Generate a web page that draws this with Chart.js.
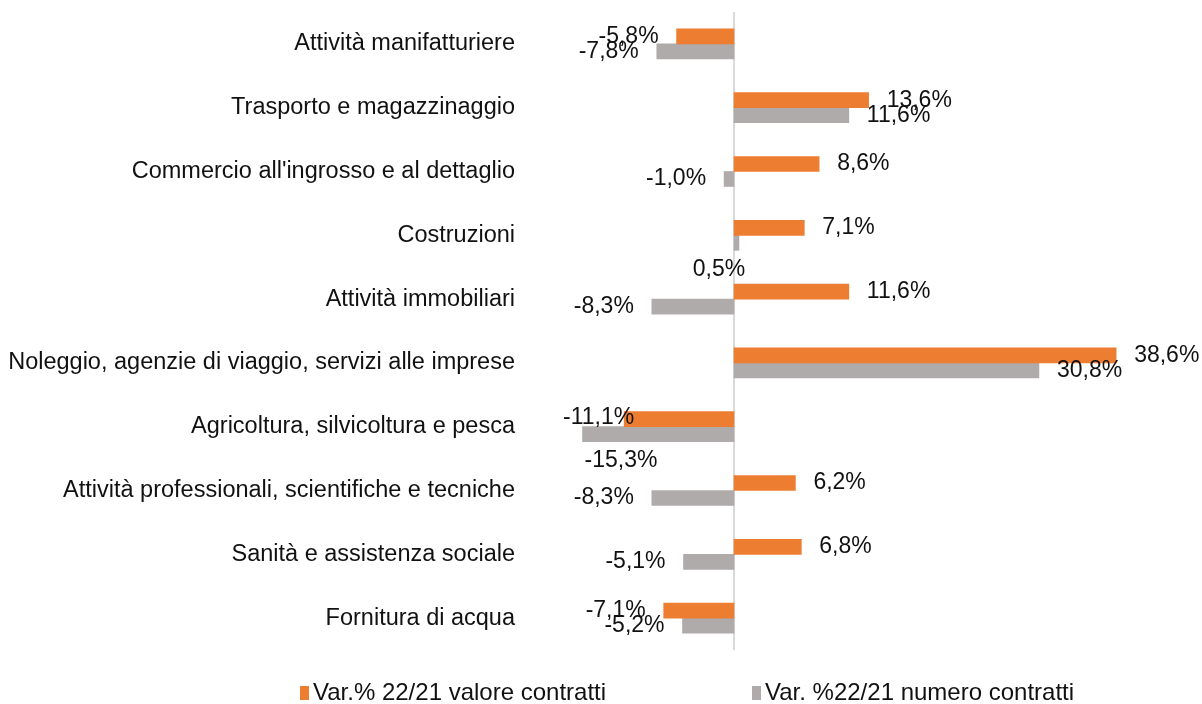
<!DOCTYPE html>
<html>
<head>
<meta charset="utf-8">
<script src="https://cdn.jsdelivr.net/npm/chart.js@4"></script>
<style>
  body { margin: 0; background: #fff; }
  #wrap { width: 1202px; height: 704px; position: relative; }
</style>
</head>
<body>
<div id="wrap"><canvas id="sectorChart"></canvas></div>
<script>
const sectors = [
  "Attività manifatturiere",
  "Trasporto e magazzinaggio",
  "Commercio all'ingrosso e al dettaglio",
  "Costruzioni",
  "Attività immobiliari",
  "Noleggio, agenzie di viaggio, servizi alle imprese",
  "Agricoltura, silvicoltura e pesca",
  "Attività professionali, scientifiche e tecniche",
  "Sanità e assistenza sociale",
  "Fornitura di acqua"
];
const valoreValues = [-5.8, 13.6, 8.6, 7.1, 11.6, 38.6, -11.1, 6.2, 6.8, -7.1];
const numeroValues = [-7.8, 11.6, -1.0, 0.5, -8.3, 30.8, -15.3, -8.3, -5.1, -5.2];
const seriesNames = ["Var.% 22/21 valore contratti", "Var. %22/21 numero contratti"];
const seriesColors = ["#ED7D31", "#AFABAB"];

const FONT = "'Liberation Sans', Arial, sans-serif";
const TEXT = "#111111";

function pct(v) {
  return v.toFixed(1).replace(".", ",") + "%";
}

// zero line behind the bars
const zeroLine = {
  id: "zeroLine",
  beforeDatasetsDraw(chart) {
    const { ctx, chartArea, scales } = chart;
    const x = Math.round(scales.x.getPixelForValue(0));
    ctx.save();
    ctx.strokeStyle = "#D9D9D9";
    ctx.lineWidth = 2;
    ctx.beginPath();
    ctx.moveTo(x, chartArea.top);
    ctx.lineTo(x, chartArea.bottom);
    ctx.stroke();
    ctx.restore();
  }
};

// value labels at the outer end of each bar
const barLabels = {
  id: "barLabels",
  afterDatasetsDraw(chart) {
    const { ctx, chartArea } = chart;
    ctx.save();
    ctx.font = "23px " + FONT;
    ctx.fillStyle = TEXT;
    ctx.textBaseline = "middle";
    chart.data.datasets.forEach((ds, di) => {
      const meta = chart.getDatasetMeta(di);
      meta.data.forEach((bar, i) => {
        const v = ds.data[i];
        const txt = pct(v);
        const w = ctx.measureText(txt).width;
        const gap = 18;
        if (Math.abs(bar.x - bar.base) < 8) {
          // tiny bar: label below it
          ctx.textAlign = "center";
          ctx.fillText(txt, bar.base - 15, bar.y + 27);
        } else if (v >= 0) {
          ctx.textAlign = "left";
          ctx.fillText(txt, bar.x + gap, bar.y);
        } else if (bar.x - gap - w >= chartArea.left) {
          ctx.textAlign = "right";
          ctx.fillText(txt, bar.x - gap, bar.y);
        } else if (di === 0) {
          ctx.textAlign = "left";
          ctx.fillText(txt, chartArea.left + 27, bar.y - 2);
        } else {
          ctx.textAlign = "left";
          ctx.fillText(txt, bar.x + 2, bar.y + 26);
        }
      });
    });
    ctx.restore();
  }
};

// legend under the plot
const bottomLegend = {
  id: "bottomLegend",
  afterDraw(chart) {
    const { ctx } = chart;
    const y = 693;
    const starts = [300, 752];
    ctx.save();
    ctx.font = "24px " + FONT;
    ctx.textBaseline = "middle";
    ctx.textAlign = "left";
    chart.data.datasets.forEach((ds, i) => {
      const x = starts[i];
      ctx.fillStyle = ds.backgroundColor;
      ctx.fillRect(x, y - 7, 9, 14);
      ctx.fillStyle = TEXT;
      ctx.fillText(ds.label, x + 13, y);
    });
    ctx.restore();
  }
};

new Chart("sectorChart", {
  type: "bar",
  data: {
    labels: sectors,
    datasets: [
      { label: seriesNames[0], data: valoreValues, backgroundColor: seriesColors[0], barThickness: 15 },
      { label: seriesNames[1], data: numeroValues, backgroundColor: seriesColors[1], barThickness: 15 }
    ]
  },
  options: {
    indexAxis: "y",
    responsive: true,
    maintainAspectRatio: false,
    animation: false,
    layout: { padding: { top: 12, bottom: 54, left: 0, right: 72 } },
    plugins: {
      legend: { display: false },
      tooltip: { enabled: false }
    },
    scales: {
      x: { display: false, min: -20, max: 40 },
      y: {
        grid: { display: false, drawTicks: false },
        border: { display: false },
        ticks: { color: TEXT, font: { family: FONT, size: 23.5 }, padding: 21 },
        afterFit(scale) {
          scale.width = 536;
          scale.paddingTop = 0;
          scale.paddingBottom = 0;
        }
      }
    }
  },
  plugins: [zeroLine, barLabels, bottomLegend]
});
</script>
</body>
</html>
